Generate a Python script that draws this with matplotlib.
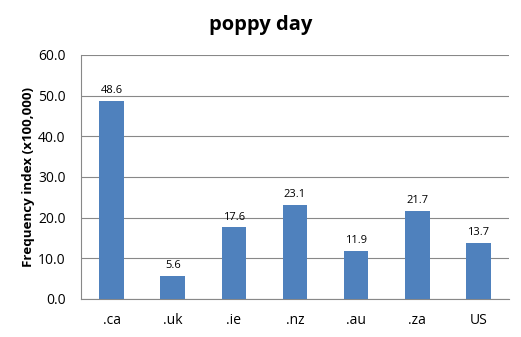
import matplotlib
matplotlib.use("Agg")
import matplotlib.pyplot as plt

categories = [".ca", ".uk", ".ie", ".nz", ".au", ".za", "US"]
values = [48.6, 5.6, 17.6, 23.1, 11.9, 21.7, 13.7]
yticks = [0, 10, 20, 30, 40, 50, 60]

plt.rcParams['font.family'] = ['Open Sans', 'DejaVu Sans']

fig = plt.figure(figsize=(5.21, 3.37), dpi=100)
ax = fig.add_axes([81/521, 1 - 299/337, 428/521, 244/337])

x = range(len(categories))
bars = ax.bar(x, values, width=0.4, color="#4F81BD", zorder=3)
for xi, v in zip(x, values):
    ax.text(xi, v + 1.2, f"{v:.1f}", ha="center", va="bottom", fontsize=8)

ax.set_xlim(-0.5, len(categories) - 0.5)
ax.set_ylim(0, 60)
ax.set_yticks(yticks)
ax.set_yticklabels([f"{t:.1f}" for t in yticks], fontsize=10)
ax.set_xticks(list(x))
ax.set_xticklabels(categories, fontsize=10)
ax.tick_params(axis="y", length=0, pad=11)
ax.tick_params(axis="x", length=0, pad=10)
ax.grid(axis="y", color="#888888", linewidth=0.8, zorder=0)
for s in ["top", "right"]:
    ax.spines[s].set_visible(False)
ax.spines["left"].set_color("#888888")
ax.spines["bottom"].set_color("#888888")

ax.set_ylabel("Frequency index (x100,000)", fontsize=9.6, fontweight="bold", labelpad=2)
fig.text(0.5, 1 - 25/337, "poppy day", ha="center", va="center", fontsize=14.5, fontweight="bold")

fig.savefig("out.png", dpi=100)
